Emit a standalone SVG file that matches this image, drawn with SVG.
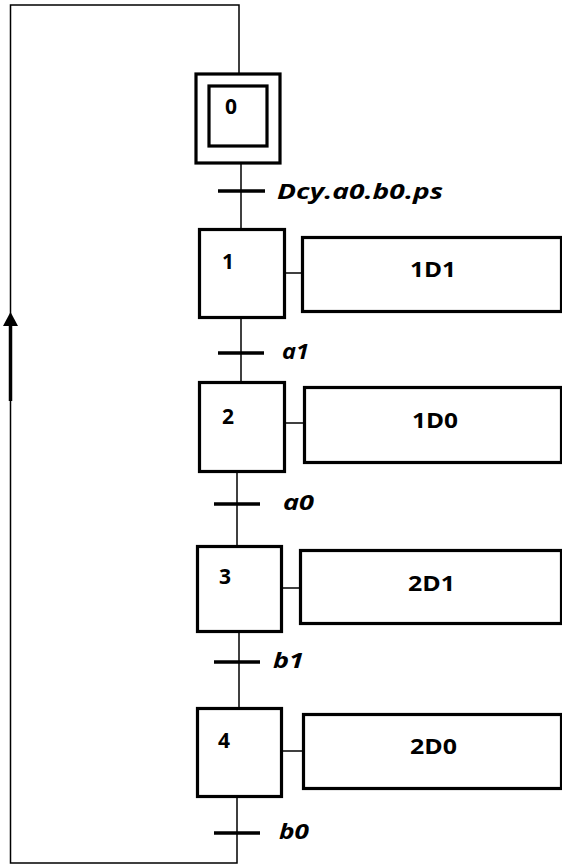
<svg xmlns="http://www.w3.org/2000/svg" width="562" height="865" viewBox="0 0 562 865">
<style>
.step{fill:#fff;stroke:#000;stroke-width:3.2}
.act{fill:#fff;stroke:#000;stroke-width:3.2}
.link{stroke:#000;stroke-width:1.5;fill:none}
.bar{stroke:#000;stroke-width:3.5}
.num{font-family:"Open Sans","Liberation Sans",Arial,sans-serif;font-weight:bold;font-size:21px;fill:#000}
.lbl{font-family:"Open Sans","Liberation Sans",Arial,sans-serif;font-weight:bold;font-size:21px;fill:#000}
.cond{font-family:"Open Sans","Liberation Sans",Arial,sans-serif;font-weight:bold;font-style:italic;font-size:21px;fill:#000}
</style>
<rect width="562" height="865" fill="#fff"/>
<g id="connectors">
<polyline class="link" points="239,73 239,5 10.5,5 10.5,863 237,863 237,797"/>
<line class="link" x1="241" y1="163" x2="241" y2="229"/>
<line class="link" x1="241" y1="318" x2="241" y2="382"/>
<line class="link" x1="237" y1="472" x2="237" y2="546"/>
<line class="link" x1="239" y1="632" x2="239" y2="708"/>
<line class="link" x1="285" y1="273" x2="302" y2="273"/>
<line class="link" x1="285" y1="423" x2="304" y2="423"/>
<line class="link" x1="282" y1="588" x2="300" y2="588"/>
<line class="link" x1="282" y1="751" x2="303" y2="751"/>
<line x1="10.5" y1="326" x2="10.5" y2="401" stroke="#000" stroke-width="3.5"/>
<polygon points="10.5,312 3,326 18,326" fill="#000"/>
</g>
<g id="t0"><line class="bar" x1="218" y1="191" x2="265" y2="191"/><text class="cond" x="277" y="199" textLength="166" lengthAdjust="spacingAndGlyphs">Dcy.a0.b0.ps</text></g>
<g id="t1"><line class="bar" x1="218" y1="353" x2="264" y2="353"/><text class="cond" x="282" y="359" textLength="27" lengthAdjust="spacingAndGlyphs">a1</text></g>
<g id="t2"><line class="bar" x1="214" y1="504" x2="260" y2="504"/><text class="cond" x="283" y="510" textLength="31" lengthAdjust="spacingAndGlyphs">a0</text></g>
<g id="t3"><line class="bar" x1="214" y1="662" x2="260" y2="662"/><text class="cond" x="273" y="668" textLength="31" lengthAdjust="spacingAndGlyphs">b1</text></g>
<g id="t4"><line class="bar" x1="214" y1="833" x2="260" y2="833"/><text class="cond" x="279" y="839" textLength="30" lengthAdjust="spacingAndGlyphs">b0</text></g>
<g id="step0"><rect class="step" x="196" y="74" width="84" height="89"/><rect class="step" x="209" y="86" width="58" height="60"/><text class="num" x="225" y="114">0</text></g>
<g id="step1"><rect class="step" x="199.5" y="229.5" width="85" height="88"/><text class="num" x="222" y="269">1</text></g>
<g id="action1"><rect class="act" x="302.5" y="237.5" width="259" height="74"/><text class="lbl" x="410" y="277" textLength="46" lengthAdjust="spacingAndGlyphs">1D1</text></g>
<g id="step2"><rect class="step" x="199.5" y="382.5" width="85" height="89"/><text class="num" x="222" y="424">2</text></g>
<g id="action2"><rect class="act" x="304.5" y="387.5" width="257" height="75"/><text class="lbl" x="412" y="428" textLength="46" lengthAdjust="spacingAndGlyphs">1D0</text></g>
<g id="step3"><rect class="step" x="197.5" y="546.5" width="84" height="85"/><text class="num" x="219" y="584">3</text></g>
<g id="action3"><rect class="act" x="300.5" y="550.5" width="261" height="73"/><text class="lbl" x="408" y="591" textLength="47" lengthAdjust="spacingAndGlyphs">2D1</text></g>
<g id="step4"><rect class="step" x="197.5" y="708.5" width="84" height="88"/><text class="num" x="218" y="748">4</text></g>
<g id="action4"><rect class="act" x="303.5" y="714.5" width="258" height="74"/><text class="lbl" x="410" y="754" textLength="47" lengthAdjust="spacingAndGlyphs">2D0</text></g>
</svg>
